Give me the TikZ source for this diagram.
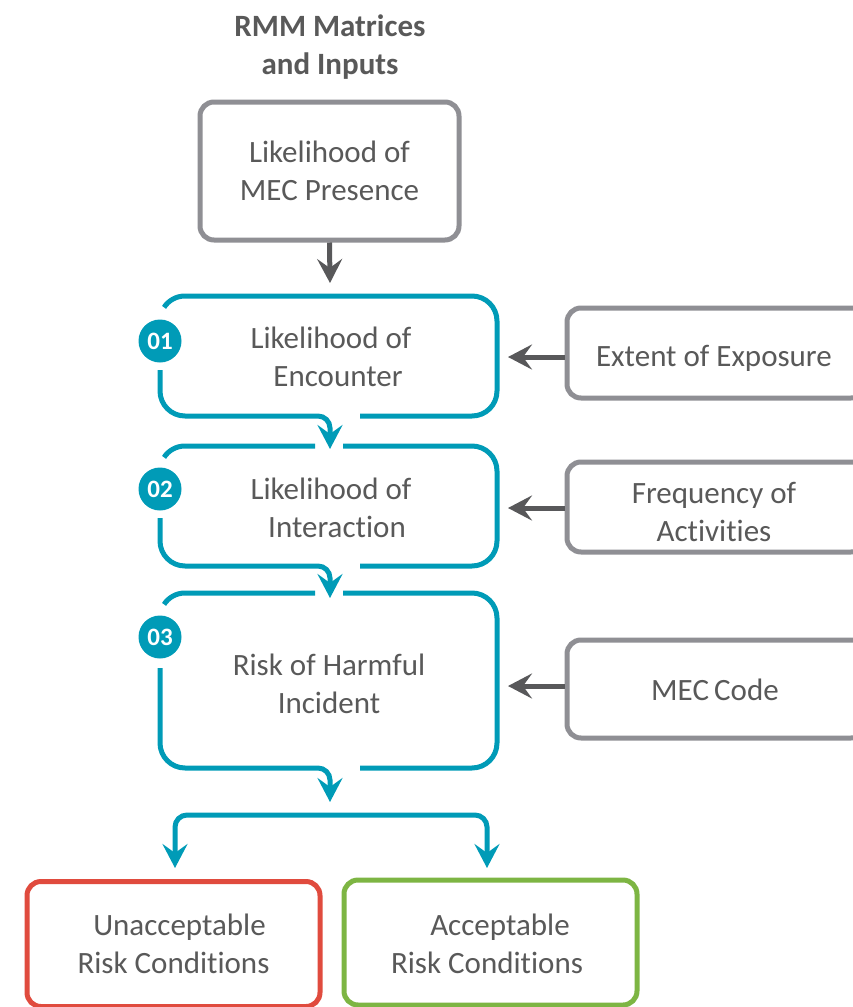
\documentclass[tikz,border=0pt]{standalone}
\usepackage{fontspec}
\setmainfont{Carlito}[Ligatures=NoCommon]
\usetikzlibrary{arrows.meta}

\definecolor{rmmteal}{RGB}{0,155,183}
\definecolor{boxgray}{RGB}{143,143,148}
\definecolor{arrowgray}{RGB}{88,88,90}
\definecolor{txtgray}{RGB}{89,89,89}
\definecolor{riskred}{RGB}{224,75,62}
\definecolor{riskgreen}{RGB}{125,181,67}

\tikzset{
  txt/.style={font=\fontsize{31}{37.5}\selectfont, text=txtgray, align=center, inner sep=0pt},
  graybox/.style={draw=boxgray, line width=5pt, rounded corners=14pt, fill=white},
  outbox/.style={line width=5pt, rounded corners=14pt, fill=white},
  tealline/.style={draw=rmmteal, line width=5pt},
  tealtip/.style={-{Stealth[length=24pt,width=25pt,inset=9pt]}},
  feed/.style={draw=arrowgray, line width=5pt, -{Stealth[length=24pt,width=25pt,inset=9pt]}},
  badge/.style={circle, fill=rmmteal, text=white, font=\bfseries\fontsize{25}{25}\selectfont, minimum size=43pt, inner sep=0pt}
}

\begin{document}
\begin{tikzpicture}[x=1pt,y=-1pt]
\useasboundingbox (0,0) rectangle (853,1007);

% heading
\node[font=\bfseries\fontsize{31}{38}\selectfont, text=txtgray, align=center, inner sep=0pt]
  (title) at (330,47) {RMM Matrices\\and Inputs};

% source box
\node[graybox, txt, minimum width=259pt, minimum height=138pt] (mec) at (329.5,171)
  {Likelihood of\\MEC Presence};
\coordinate (encTop) at (330,283);
\draw[feed] (mec.south) -- (encTop);

% stage 01 frame
\draw[tealline] (164.03,307.38) arc[start angle=147,end angle=90,radius=25pt]
  -- (472,296) arc[start angle=90,end angle=0,radius=25pt]
  -- (497,391) arc[start angle=0,end angle=-90,radius=25pt] -- (360,416);
\coordinate (interTop) at (330,449);
\draw[tealline, tealtip] (160,370) -- (160,391) arc[start angle=180,end angle=270,radius=25pt]
  -- (318,416) arc[start angle=90,end angle=0,radius=12pt] -- (interTop);

% stage 02 frame
\draw[tealline] (164.03,457.38) arc[start angle=147,end angle=90,radius=25pt] -- (315,446);
\draw[tealline] (343,446) -- (472,446) arc[start angle=90,end angle=0,radius=25pt]
  -- (497,541) arc[start angle=0,end angle=-90,radius=25pt] -- (360,566);
\coordinate (harmTop) at (330,598);
\draw[tealline, tealtip] (160,518) -- (160,541) arc[start angle=180,end angle=270,radius=25pt]
  -- (318,566) arc[start angle=90,end angle=0,radius=12pt] -- (harmTop);

% stage 03 frame
\draw[tealline] (164.03,604.38) arc[start angle=147,end angle=90,radius=25pt] -- (315,593);
\draw[tealline] (343,593) -- (472,593) arc[start angle=90,end angle=0,radius=25pt]
  -- (497,743) arc[start angle=0,end angle=-90,radius=25pt] -- (360,768);
\coordinate (splitTop) at (330,802);
\draw[tealline, tealtip] (160,668) -- (160,743) arc[start angle=180,end angle=270,radius=25pt]
  -- (318,768) arc[start angle=90,end angle=0,radius=12pt] -- (splitTop);

% stage texts and badges
\node[txt] (enc) at (331,357) {Likelihood of\\\hspace*{14pt}Encounter};
\node[txt] (inter) at (331,508) {Likelihood of\\\hspace*{12pt}Interaction};
\node[txt] (harm) at (329,684) {Risk of Harmful\\Incident};
\node[badge] (b1) at (160,341) {01};
\node[badge] (b2) at (160,489) {02};
\node[badge] (b3) at (160,637) {03};

% input boxes on the right
\node[graybox, minimum width=298pt, minimum height=90pt] (expo) at (716,353) {};
\node[txt] (expoText) at (714,358) {Extent of Exposure};
\node[graybox, minimum width=298pt, minimum height=90pt] (freq) at (716,507) {};
\node[txt] (freqText) at (714,512) {Frequency of\\Activities};
\node[graybox, minimum width=298pt, minimum height=98pt] (code) at (716,689) {};
\node[txt] (codeText) at (715,690) {MEC\,Code};
\coordinate (encSide) at (508,357);
\coordinate (interSide) at (508,508);
\coordinate (harmSide) at (508,686);
\draw[feed] (expo.west |- encSide) -- (encSide);
\draw[feed] (freq.west |- interSide) -- (interSide);
\draw[feed] (code.west |- harmSide) -- (harmSide);

% outcome boxes
\node[outbox, draw=riskred, txt, minimum width=293pt, minimum height=125pt] (unacc) at (173.5,944)
  {\hspace*{12pt}Unacceptable\\Risk Conditions};
\node[outbox, draw=riskgreen, minimum width=293pt, minimum height=125pt] (acc) at (490.5,942.5) {};
\node[txt] (accText) at (487,944) {\hspace*{26pt}Acceptable\\Risk Conditions};

% split to the outcomes
\coordinate (leftTip) at (175,868);
\coordinate (rightTip) at (487,868);
\draw[tealline, {Stealth[length=24pt,width=25pt,inset=9pt]}-{Stealth[length=24pt,width=25pt,inset=9pt]}]
  (leftTip) -- (175,827) arc[start angle=180,end angle=90,radius=12pt]
  -- (475,815) arc[start angle=90,end angle=0,radius=12pt] -- (rightTip);
\end{tikzpicture}
\end{document}
